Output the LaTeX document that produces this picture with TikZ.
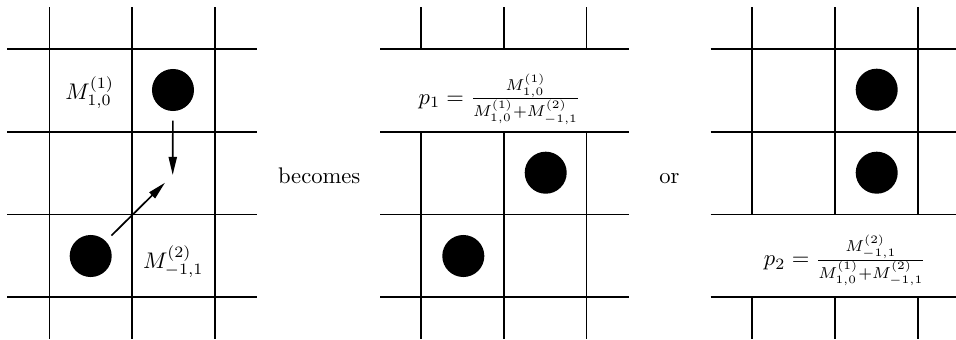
\documentclass[tikz,border=0pt]{standalone}
\usepackage{amsmath}
\usetikzlibrary{arrows.meta}
\begin{document}
\begin{tikzpicture}[x=0.4425pt,y=-0.4425pt,
  gridline/.style={line width=0.75pt},
  dot/.style={circle,fill=black,inner sep=0pt,minimum size=18.6pt,outer sep=0pt},
  arr/.style={line width=0.75pt,-{Triangle[length=8pt,width=3.6pt]}},
  lab/.style={inner sep=0pt}]
\useasboundingbox (0,0) rectangle (956,339);
% left grid
\foreach \y in {49,131.7,214.4,297.1} \draw[gridline] (7,\y) -- (257,\y);
\foreach \x in {49.5,132.2,214.9} \draw[gridline] (\x,7) -- (\x,339);
% middle grid
\foreach \y in {49,131.7,214.4,297.1} \draw[gridline] (380,\y) -- (629,\y);
\foreach \x in {421,503.7,586.4} {
  \draw[gridline] (\x,7) -- (\x,49);
  \draw[gridline] (\x,131.7) -- (\x,339);}
% right grid
\foreach \y in {49,131.7,214.4,297.1} \draw[gridline] (710.7,\y) -- (956,\y);
\foreach \x in {752.3,835,917.7} {
  \draw[gridline] (\x,7) -- (\x,214.4);
  \draw[gridline] (\x,297.1) -- (\x,339);}
% dots
\node[dot] (a1) at (173,90) {};
\node[dot] (a2) at (90.7,256) {};
\node[dot] (b1) at (545.7,172.7) {};
\node[dot] (b2) at (463.3,256) {};
\node[dot] (c1) at (876.7,89.7) {};
\node[dot] (c2) at (876.7,172.7) {};
% labels
\node[lab] (m1) at (89.7,92.5) {$M^{(1)}_{1,0}$};
\node[lab] (m2) at (173.3,261.7) {$M^{(2)}_{-1,1}$};
\node[lab,anchor=base] (bec) at (319.2,183.3) {becomes};
\node[lab,anchor=base] (or) at (669.5,183.3) {or};
\node[lab] (p1) at (499.7,99) {$p_1=\frac{M^{(1)}_{1,0}}{M^{(1)}_{1,0}+M^{(2)}_{-1,1}}$};
\node[lab] (p2) at (845,260) {$p_2=\frac{M^{(2)}_{-1,1}}{M^{(1)}_{1,0}+M^{(2)}_{-1,1}}$};
% arrows
\coordinate (t1) at (172.7,175);
\coordinate (t2) at (165,182.7);
\draw[arr,shorten <=4.3pt] (a1) -- (t1);
\draw[arr,shorten <=3.6pt] (a2) -- (t2);
\end{tikzpicture}
\end{document}
